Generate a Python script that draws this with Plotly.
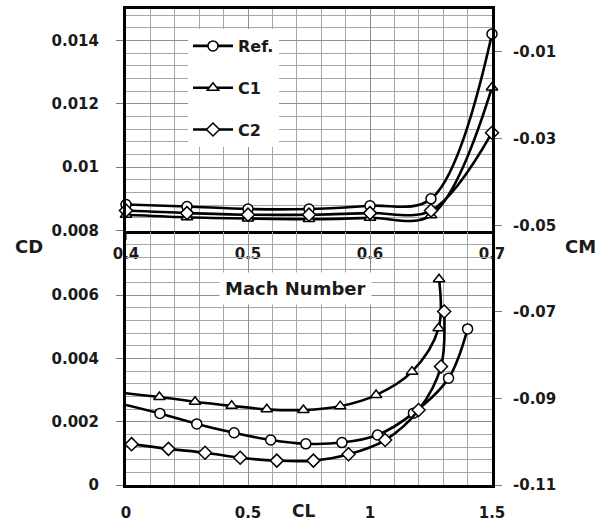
import plotly.graph_objects as go

# ---- data ----
mach = [0.4, 0.45, 0.5, 0.55, 0.6, 0.65, 0.7]
cd_ref_mach = [0.00882, 0.00876, 0.00868, 0.00868, 0.00878, 0.00900, 0.01421]
cd_c1_mach = [0.00850, 0.00842, 0.00838, 0.00836, 0.00840, 0.00848, 0.01252]
cd_c2_mach = [0.00863, 0.00855, 0.00850, 0.00850, 0.00855, 0.00863, 0.01109]

cl_ref = [0.0, 0.139, 0.29, 0.443, 0.593, 0.737, 0.885, 1.031, 1.178, 1.322, 1.40]
cd_ref_cl = [0.00253, 0.00226, 0.00193, 0.00165, 0.00142, 0.00130, 0.00134, 0.00158, 0.00227, 0.00337, 0.00493]
cl_c1 = [0.0, 0.137, 0.283, 0.433, 0.577, 0.727, 0.878, 1.025, 1.172, 1.281, 1.283]
cd_c1_cl = [0.00290, 0.00278, 0.00263, 0.00250, 0.00239, 0.00237, 0.00249, 0.00284, 0.00358, 0.00495, 0.00650]
cl_c2 = [0.023, 0.174, 0.324, 0.468, 0.618, 0.768, 0.912, 1.062, 1.199, 1.291, 1.304]
cd_c2_cl = [0.00129, 0.00114, 0.00102, 0.00086, 0.00077, 0.00077, 0.00097, 0.00142, 0.00237, 0.00374, 0.00548]

series_names = ["Ref.", "C1", "C2"]
top_ticks_cd = [0.008, 0.01, 0.012, 0.014]
top_ticks_cm = [-0.05, -0.03, -0.01]
bot_ticks_cd = [0, 0.002, 0.004, 0.006]
bot_ticks_cm = [-0.11, -0.09, -0.07]
mach_ticks = [0.4, 0.5, 0.6, 0.7]
cl_ticks = [0, 0.5, 1, 1.5]

# ---- layout geometry (pixels) ----
W, H = 607, 523
L, R, T, B = 126, 115, 9, 38
ph = H - T - B
pw = W - L - R
def py(px):
    return (H - B - px) / ph
def pxx(px):
    return (px - L) / pw

symbols = ["circle", "triangle-up", "diamond"]
FONT = "DejaVu Sans"
TXT = "#1a1a1a"
fig = go.Figure()

def add(x, y, name, sym, xa, ya, legend, sizes=None):
    fig.add_trace(go.Scatter(
        x=x, y=y, name=name, mode="lines+markers",
        xaxis=xa, yaxis=ya, showlegend=legend, legendgroup=name,
        line=dict(color="black", width=2.6, shape="spline", smoothing=1.0),
        marker=dict(symbol=sym, size=sizes if sizes is not None else 10, opacity=1,
                    color="white", line=dict(color="black", width=1.5)),
        cliponaxis=False,
    ))

for n, s, yv in zip(series_names, symbols, [cd_ref_mach, cd_c1_mach, cd_c2_mach]):
    add(mach, yv, n, s, "x", "y", True)

bot = [(cl_ref, cd_ref_cl, True), (cl_c1, cd_c1_cl, True), (cl_c2, cd_c2_cl, False)]
for n, s, (xv, yv, hide0) in zip(series_names, symbols, bot):
    sizes = [0 if (i == 0 and hide0) else 10 for i in range(len(xv))]
    add(xv, yv, n, s, "x2", "y2", False, sizes)

# dummy traces for secondary axes
fig.add_trace(go.Scatter(x=[], y=[], xaxis="x", yaxis="y3", showlegend=False))
fig.add_trace(go.Scatter(x=[], y=[], xaxis="x2", yaxis="y4", showlegend=False))

tickfont = dict(family=FONT, size=15, color=TXT, weight="bold")
grid = dict(showgrid=True, gridcolor="#8f8f8f", gridwidth=1)
minor_grid = dict(showgrid=True, gridcolor="#a6a6a6", gridwidth=1)
common = dict(automargin=False, zeroline=False)

top_dom = [py(230.5), 1]
bot_dom = [0, py(231.7)]

fig.update_layout(
    template="none",
    width=W, height=H, margin=dict(l=L, r=R, t=T, b=B, autoexpand=False),
    paper_bgcolor="white", plot_bgcolor="white",
    showlegend=True,
    legend=dict(x=pxx(188), y=py(29), xanchor="left", yanchor="top",
                bgcolor="white", borderwidth=0, tracegroupgap=18,
                font=dict(family=FONT, size=16, color=TXT, weight="bold"),
                itemwidth=40),
    xaxis=dict(domain=[0, 1], anchor="y", range=[0.4, 0.7],
               tickvals=mach_ticks, ticktext=["0.4", "0.5", "0.6", "0.7"],
               tickfont=tickfont, ticks="outside", ticklen=6, tickcolor="#777",
               showline=True, linecolor="black", linewidth=3, mirror=True,
               ticklabelstandoff=1,
               minor=dict(dtick=0.02, **minor_grid), **grid, **common),
    yaxis=dict(domain=top_dom, anchor="x", range=[0.008, 0.015],
               tickvals=top_ticks_cd, ticktext=["0.008", "0.01", "0.012", "0.014"],
               tickfont=tickfont, ticks="outside", ticklen=7, tickcolor="#777",
               showline=True, linecolor="black", linewidth=3,
               ticklabelstandoff=14,
               minor=dict(dtick=0.0004, **minor_grid), **grid, **common),
    yaxis3=dict(overlaying="y", anchor="x", side="right", range=[-0.0511, -0.0003],
                tickvals=top_ticks_cm, ticktext=["-0.05", "-0.03", "-0.01"],
                tickfont=tickfont, ticks="outside", ticklen=7, tickcolor="#777",
                showline=True, linecolor="black", linewidth=3, showgrid=False,
                ticklabelstandoff=8, **common),
    xaxis2=dict(domain=[0, 1], anchor="y2", range=[0, 1.5],
                tickvals=cl_ticks, ticktext=["0", "0.5", "1", "1.5"],
                tickfont=tickfont, ticks="", showline=True, linecolor="black", linewidth=3,
                ticklabelstandoff=12,
                minor=dict(dtick=0.1, **minor_grid), **grid, **common),
    yaxis2=dict(domain=bot_dom, anchor="x2", range=[0, 0.008],
                tickvals=bot_ticks_cd, ticktext=["0", "0.002", "0.004", "0.006"],
                tickfont=tickfont, ticks="outside", ticklen=7, tickcolor="#777",
                showline=True, linecolor="black", linewidth=3,
                ticklabelstandoff=14,
                minor=dict(dtick=0.0004, **minor_grid), **grid, **common),
    yaxis4=dict(overlaying="y2", anchor="x2", side="right",
                range=[-0.11, -0.11 + (485 - 231.7) / 86.7 * 0.02],
                tickvals=bot_ticks_cm, ticktext=["-0.11", "-0.09", "-0.07"],
                tickfont=tickfont, ticks="outside", ticklen=7, tickcolor="#777",
                showline=True, linecolor="black", linewidth=3, showgrid=False,
                ticklabelstandoff=8, **common),
)

labfont = dict(family=FONT, size=18, color=TXT, weight="bold")
def ann(text, xpx, ypx, font=None, **kw):
    fig.add_annotation(text=text, x=pxx(xpx), y=py(ypx), xref="paper", yref="paper",
                       xanchor="center", yanchor="middle",
                       showarrow=False, font=font or labfont, **kw)

ann("CD", 29, 246)
ann("CM", 580, 246)
ann("CL", 303, 511, font=dict(family=FONT, size=17, color=TXT, weight="bold"))
ann("Mach Number", 295, 288, bgcolor="white", borderpad=5,
    font=dict(family=FONT, size=18, color=TXT, weight="bold"))

fig.write_html("out.html")
